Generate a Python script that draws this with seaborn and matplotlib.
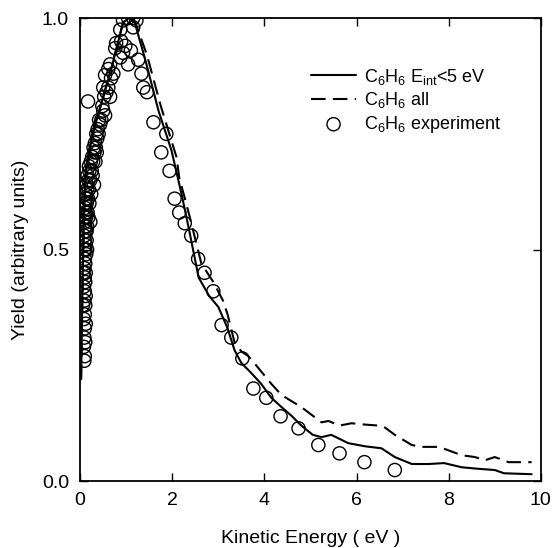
import numpy as np
import pandas as pd
import matplotlib
matplotlib.use("Agg")
import matplotlib.pyplot as plt
import seaborn as sns

# Данные: расчёт E_int < 5 eV (сплошная линия)
ke_low = [0.02, 0.04, 0.06, 0.09, 0.13, 0.3, 0.5, 0.7, 0.93, 1.05, 1.17, 1.4, 1.7,
          1.98, 2.2, 2.37, 2.57, 2.8, 3.0, 3.2, 3.35, 3.5, 3.7, 3.93, 4.15, 4.37,
          4.6, 4.8, 5.05, 5.24, 5.45, 5.82, 6.2, 6.54, 6.83, 7.2, 7.57, 7.9, 8.28,
          8.6, 9.0, 9.2, 9.5, 9.8]
yield_low = [0.22, 0.35, 0.47, 0.6, 0.68, 0.76, 0.83, 0.9, 0.99, 1.0, 0.995, 0.915,
             0.80, 0.715, 0.62, 0.54, 0.44, 0.40, 0.376, 0.33, 0.283, 0.255, 0.235,
             0.21, 0.18, 0.16, 0.14, 0.12, 0.10, 0.095, 0.10, 0.082, 0.075, 0.071,
             0.052, 0.037, 0.037, 0.039, 0.03, 0.027, 0.024, 0.017, 0.016, 0.015]

# Расчёт, все (пунктир)
ke_all = [0.02, 0.04, 0.06, 0.09, 0.13, 0.3, 0.5, 0.7, 0.93, 1.05, 1.2, 1.45, 1.75,
          2.09, 2.15, 2.38, 2.63, 2.89, 3.1, 3.2, 3.35, 3.5, 3.65, 3.78, 4.15, 4.37,
          4.8, 5.24, 5.39, 5.63, 5.89, 6.2, 6.48, 6.6, 6.83, 7.2, 7.41, 7.78, 7.9,
          8.28, 8.57, 8.78, 9.0, 9.3, 9.8]
yield_all = [0.22, 0.35, 0.47, 0.6, 0.68, 0.76, 0.83, 0.9, 0.99, 1.0, 0.99, 0.92,
             0.81, 0.70, 0.656, 0.57, 0.47, 0.43, 0.39, 0.36, 0.30, 0.28, 0.27,
             0.255, 0.21, 0.186, 0.16, 0.127, 0.13, 0.12, 0.125, 0.122, 0.12, 0.117,
             0.10, 0.078, 0.074, 0.074, 0.07, 0.056, 0.052, 0.045, 0.052, 0.041, 0.041]

# Эксперимент (кружки)
ke_exp = [0.09, 0.10, 0.08, 0.11, 0.09, 0.10, 0.12, 0.08, 0.10, 0.11, 0.09, 0.12,
          0.10, 0.08, 0.11, 0.10, 0.12, 0.09, 0.11, 0.10, 0.13, 0.09, 0.11, 0.12,
          0.10, 0.14, 0.09, 0.12, 0.11, 0.15, 0.10, 0.13, 0.09, 0.12, 0.16, 0.11,
          0.14, 0.10, 0.13, 0.17, 0.12, 0.15, 0.19, 0.14, 0.18, 0.22, 0.16, 0.20,
          0.25, 0.19, 0.23, 0.28, 0.26, 0.31, 0.29, 0.34, 0.32, 0.37, 0.35, 0.40,
          0.38, 0.43, 0.41, 0.46, 0.50, 0.54, 0.48, 0.52, 0.57, 0.61, 0.50, 0.65,
          0.54, 0.67, 0.61, 0.72, 0.65, 0.78, 0.76, 0.87, 0.89, 0.87, 0.93, 0.98,
          0.93, 1.04, 1.15, 1.22, 1.15, 1.10, 1.04, 1.26, 1.33, 1.37, 1.45, 0.17,
          1.59, 1.87, 1.76, 1.94, 2.05, 2.15, 2.27, 2.41, 2.56, 2.70, 2.89, 3.07,
          3.28, 3.52, 3.76, 4.04, 4.35, 4.74, 5.17, 5.63, 6.17, 6.83,
          0.14, 0.20, 0.24, 0.18, 0.27, 0.33, 0.30, 0.36, 0.22, 0.15, 0.07, 0.06]
yield_exp = [0.26, 0.27, 0.29, 0.30, 0.31, 0.33, 0.34, 0.35, 0.36, 0.38, 0.39, 0.40,
             0.41, 0.42, 0.43, 0.44, 0.45, 0.46, 0.47, 0.48, 0.49, 0.50, 0.50, 0.51,
             0.52, 0.52, 0.53, 0.54, 0.55, 0.55, 0.56, 0.57, 0.57, 0.58, 0.58, 0.59,
             0.60, 0.60, 0.61, 0.61, 0.62, 0.63, 0.63, 0.64, 0.65, 0.65, 0.66, 0.67,
             0.67, 0.68, 0.69, 0.69, 0.70, 0.71, 0.72, 0.72, 0.73, 0.74, 0.75, 0.75,
             0.76, 0.77, 0.78, 0.78, 0.80, 0.79, 0.81, 0.83, 0.84, 0.85, 0.85, 0.83,
             0.877, 0.87, 0.89, 0.88, 0.90, 0.946, 0.935, 0.915, 0.95, 0.975, 0.925, 0.94,
             0.995, 1.0, 1.0, 0.995, 0.98, 0.93, 0.90, 0.91, 0.88, 0.85, 0.84, 0.82,
             0.775, 0.75, 0.71, 0.67, 0.61, 0.58, 0.557, 0.53, 0.48, 0.45, 0.41, 0.337,
             0.31, 0.265, 0.20, 0.18, 0.14, 0.114, 0.078, 0.06, 0.041, 0.024,
             0.54, 0.60, 0.62, 0.57, 0.66, 0.69, 0.64, 0.71, 0.56, 0.50, 0.45, 0.38]

sns.set_style("ticks")
plt.rcParams["font.family"] = ["Liberation Sans", "DejaVu Sans"]
plt.rcParams["mathtext.default"] = "regular"
plt.rcParams["text.color"] = "black"
plt.rcParams["axes.labelcolor"] = "black"

fig = plt.figure(figsize=(5.53, 5.48), dpi=100)
ax = fig.add_axes([0.145, 0.122, 0.833, 0.845])

sns.lineplot(x=ke_low, y=yield_low, ax=ax, color="black", linewidth=1.5,
             sort=False, estimator=None, label=r"C$_6$H$_6$ E$_{int}$<5 eV")
sns.lineplot(x=ke_all, y=yield_all, ax=ax, color="black", linewidth=1.5,
             sort=False, estimator=None, label=r"C$_6$H$_6$ all")
ax.lines[-1].set_dashes((7, 3.5))
sns.scatterplot(x=ke_exp, y=yield_exp, ax=ax, marker="o", s=90,
                facecolor="none", edgecolor="black", linewidth=1.0,
                label=r"C$_6$H$_6$ experiment")

ax.set_xlim(0, 10)
ax.set_ylim(0, 1.0)
ax.set_xticks([0, 2, 4, 6, 8, 10])
ax.set_yticks([0.0, 0.5, 1.0])
ax.set_yticklabels(["0.0", "0.5", "1.0"])
ax.tick_params(direction="in", length=6, width=1, top=True, right=True,
               labelsize=14, colors="black", pad=8)
for sp in ax.spines.values():
    sp.set_linewidth(1.3)
    sp.set_color("black")

ax.set_xlabel("Kinetic Energy ( eV )", fontsize=14, labelpad=15)
ax.set_ylabel("Yield (arbitrary units)", fontsize=14, labelpad=9)

leg = ax.legend(loc="upper right", bbox_to_anchor=(0.95, 0.93), frameon=False,
                fontsize=13, handlelength=2.5, handletextpad=0.45, labelspacing=0.2)

fig.savefig("out.png", dpi=100)
